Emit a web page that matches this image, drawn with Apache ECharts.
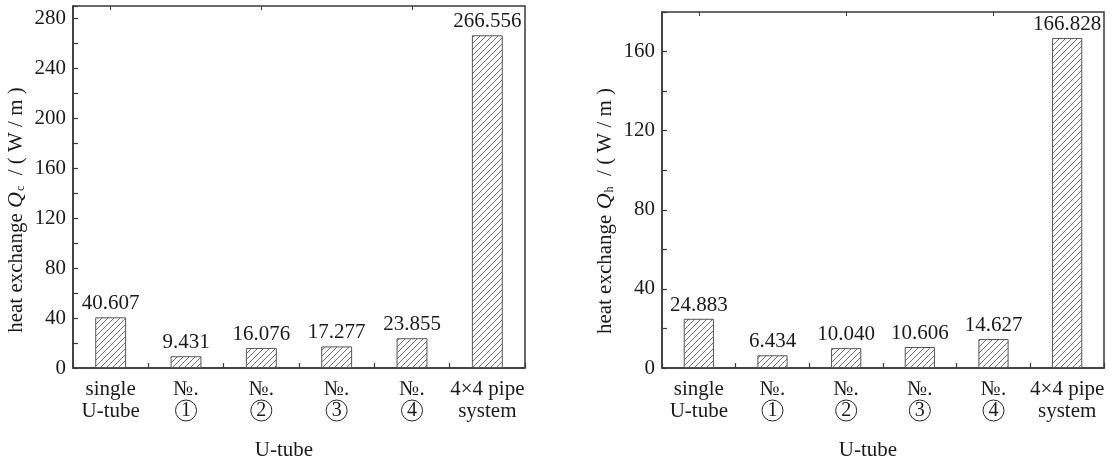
<!DOCTYPE html>
<html>
<head>
<meta charset="utf-8">
<script src="https://cdn.jsdelivr.net/npm/echarts@6/dist/echarts.min.js"></script>
<style>html,body{margin:0;padding:0;background:#fff}#c{width:1118px;height:466px}</style>
</head>
<body>
<div id="c"></div>
<script>
// ---- data ----
var categories = ['single U-tube', 'No.1', 'No.2', 'No.3', 'No.4', '4x4 pipe system'];
var categoryLabels = ['single\nU-tube', '№.\n{c|1}', '№.\n{c|2}', '№.\n{c|3}', '№.\n{c|4}', '4×4 pipe\nsystem'];
var heatCooling = [40.607, 9.431, 16.076, 17.277, 23.855, 266.556];   // Q_c
var heatHeating = [24.883, 6.434, 10.040, 10.606, 14.627, 166.828];   // Q_h
var yTicksLeft = [0, 40, 80, 120, 160, 200, 240, 280];
var yTicksRight = [0, 40, 80, 120, 160];

var FONT = '"Liberation Serif", "Times New Roman", serif';
var TXT = '#1a1a1a';
var AX = '#3a3a3a';

// hatch pattern
var pc = document.createElement('canvas');
pc.width = 6; pc.height = 6;
var g = pc.getContext('2d');
g.fillStyle = '#ffffff'; g.fillRect(0, 0, 6, 6);
g.strokeStyle = '#707070'; g.lineWidth = 1;
g.beginPath();
g.moveTo(-1, 7); g.lineTo(7, -1);
g.moveTo(-4, 4); g.lineTo(4, -4);
g.moveTo(2, 10); g.lineTo(10, 2);
g.stroke();

var chart = echarts.init(document.getElementById('c'), null, {renderer: 'canvas'});

function catAxis(idx) {
  return {
    type: 'category', gridIndex: idx, data: categories,
    name: 'U-tube', nameLocation: 'middle', nameGap: 72,
    nameTextStyle: {fontFamily: FONT, fontSize: 21, color: TXT, padding: [0, 30, 0, 0]},
    axisLine: {show: true, lineStyle: {color: AX, width: 1.5}},
    axisTick: {show: true, inside: true, length: 5, lineStyle: {color: AX, width: 1.2}},
    axisLabel: {
      interval: 0, margin: 10, fontFamily: FONT, fontSize: 21, color: TXT, lineHeight: 22,
      formatter: function (v, i) { return categoryLabels[i]; },
      rich: {
        c: {fontFamily: FONT, fontSize: 20, color: TXT, width: 21, height: 21, lineHeight: 21,
            align: 'center', borderColor: '#222', borderWidth: 1, borderRadius: 12}
      }
    },
    splitLine: {show: false}
  };
}
function midTickAxis(idx) {
  return {
    type: 'category', gridIndex: idx, data: categories, z: 5,
    axisLine: {show: false}, axisLabel: {show: false},
    axisTick: {show: true, inside: true, alignWithLabel: true, length: 4, lineStyle: {color: AX, width: 1}},
    splitLine: {show: false}
  };
}
function valAxis(idx, max, ticks, sub, padR) {
  return {
    type: 'value', gridIndex: idx, min: 0, max: max, interval: 20,
    name: '{t|heat exchange }{q|Q}{s|' + sub + '}{t|  / ( W / m )}',
    nameLocation: 'middle', nameGap: 46,
    nameTextStyle: {
      padding: [0, padR, 0, 0],
      rich: {
        t: {fontFamily: FONT, fontSize: 21, color: TXT},
        q: {fontFamily: FONT, fontSize: 22, fontStyle: 'italic', color: TXT},
        s: {fontFamily: FONT, fontSize: 12, color: TXT, verticalAlign: 'bottom', padding: [10, 0, 0, 1]}
      }
    },
    axisLine: {show: true, lineStyle: {color: AX, width: 1.5}},
    axisTick: {show: true, inside: true, length: 5, lineStyle: {color: AX, width: 1.2}},
    axisLabel: {
      margin: 7, fontFamily: FONT, fontSize: 21, color: TXT,
      formatter: function (v) { return ticks.indexOf(v) >= 0 ? String(v) : ''; }
    },
    splitLine: {show: false}
  };
}
function barSeries(x, y, data) {
  return {
    type: 'bar', xAxisIndex: x, yAxisIndex: y, data: data, barWidth: '41%',
    itemStyle: {color: {image: pc, repeat: 'repeat'}, borderColor: '#555', borderWidth: 1},
    label: {
      show: true, position: 'top', distance: 3, fontFamily: FONT, fontSize: 21, color: TXT,
      formatter: function (p) { return p.value.toFixed(3); }
    },
    silent: true, animation: false
  };
}

chart.setOption({
  animation: false,
  grid: [
    {left: 73, top: 6, width: 452, height: 364, show: true, borderColor: AX, borderWidth: 1.5, backgroundColor: 'transparent'},
    {left: 662, top: 12, width: 442, height: 358, show: true, borderColor: AX, borderWidth: 1.5, backgroundColor: 'transparent'}
  ],
  xAxis: [catAxis(0), catAxis(1), midTickAxis(0), midTickAxis(1)],
  yAxis: [valAxis(0, 290, yTicksLeft, 'c', 46), valAxis(1, 180, yTicksRight, 'h', 42)],
  series: [barSeries(0, 0, heatCooling), barSeries(1, 1, heatHeating)]
});
</script>
</body>
</html>
